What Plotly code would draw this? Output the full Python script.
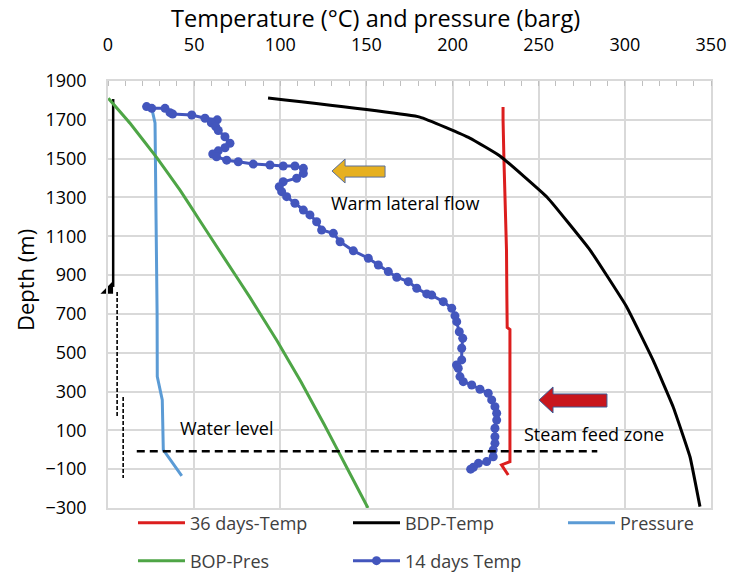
import plotly.graph_objects as go

# ---------------- data ----------------
# 14 days temperature survey (degC vs depth m)
t14_temp = [22.4, 25.4, 33.1, 36.0, 37.5, 48.6, 56.3, 63.4, 60.0, 62.5, 64.0, 67.9, 70.8,
            67.9, 64.0, 60.8, 63.0, 68.9, 75.6, 84.3, 94.0, 101.7, 108.5, 113.4, 113.4,
            109.5, 101.7, 99.4, 100.8, 103.7, 108.5, 113.4, 117.2, 121.1, 124.0, 130.8,
            134.7, 142.4, 151.1, 156.9, 162.7, 167.6, 174.3, 179.2, 185.0, 187.9, 194.6,
            199.5, 201.4, 202.4, 203.9, 205.9, 205.3, 205.3, 202.3, 203.3, 204.3, 206.2,
            211.1, 215.9, 220.7, 222.7, 224.6, 225.6, 225.6, 224.6, 224.6, 224.6, 223.6,
            223.6, 219.8, 215.0, 212.1, 210.5]
t14_depth = [1768, 1759, 1759, 1737, 1730, 1725, 1708, 1700, 1684, 1665, 1645, 1613, 1579,
             1556, 1540, 1524, 1510, 1492, 1484, 1472, 1467, 1462, 1462, 1450, 1424,
             1399, 1381, 1355, 1330, 1304, 1270, 1235, 1210, 1175, 1132, 1115,
             1072, 1025, 987, 952, 918, 889, 866, 832, 803, 797, 763,
             729, 690, 660, 608, 574, 523, 463, 437, 420, 377, 351,
             334, 312, 291, 257, 222, 188, 153, 111, 67, 33, -1,
             -36, -61, -70, -90, -100]

# 36 days temperature survey
t36_temp = [229.3, 229.3, 229.8, 230.5, 231.0, 231.3, 231.5, 231.7, 233.3, 233.3, 228.4, 230.4, 232.3]
t36_depth = [1766, 1700, 1500, 1300, 1100, 1029, 800, 630, 620, -61, -78, -104, -130]

# BDP temperature
bdp_temp = [92.9, 181.0, 210.0, 227.5, 255.0, 279.8, 301.0, 316.3, 328.0, 337.8, 343.6]
bdp_depth = [1812, 1714, 1606, 1514, 1300, 1029, 737, 463, 222, -36, -293]

# measured pressure (barg)
pres_val = [25.4, 27.3, 27.9, 28.4, 28.5, 28.6, 31.5, 32.1, 42.8]
pres_depth = [1759, 1684, 1184, 900, 700, 377, 257, 0, -135]

# BOP pressure
bop_val = [0.2, 12.8, 28.3, 41.8, 52.4, 67.3, 82.4, 98.2, 112.0, 125.5, 138.5, 150.9]
bop_depth = [1811, 1682, 1505, 1338, 1193, 990, 785, 560, 350, 130, -90, -300]

# well completion (casing / liners) and water level
casing_x = [3.0, 3.0]
casing_y = [1807, 839]
shoe_x = [0.5]
shoe_y = [826]
liner1_x = [5.3, 5.3]
liner1_y = [813, 164]
liner2_x = [8.8, 8.8]
liner2_y = [272, -145]
water_x = [16.7, 284.0]
water_y = [-8, -8]

x_ticks = [0, 50, 100, 150, 200, 250, 300, 350]
y_ticks = [-300, -100, 100, 300, 500, 700, 900, 1100, 1300, 1500, 1700, 1900]

RED = "#DC1E1E"
LBLUE = "#5B9BD5"
GREEN = "#4EA546"
DBLUE = "#4356BD"
FONT = "Open Sans"

fig = go.Figure()

# completion drawing
fig.add_trace(go.Scatter(x=casing_x, y=casing_y, mode="lines", showlegend=False,
                         line=dict(color="black", width=2.5), hoverinfo="skip"))
fig.add_trace(go.Scatter(x=liner1_x, y=liner1_y, mode="lines", showlegend=False,
                         line=dict(color="black", width=1.6, dash="4px,2px"), hoverinfo="skip"))
fig.add_trace(go.Scatter(x=liner2_x, y=liner2_y, mode="lines", showlegend=False,
                         line=dict(color="black", width=1.6, dash="4px,2px"), hoverinfo="skip"))
fig.add_trace(go.Scatter(x=shoe_x, y=shoe_y, mode="markers", showlegend=False, cliponaxis=False,
                         marker=dict(symbol="triangle-se", size=14, color="black"), hoverinfo="skip"))

fig.add_trace(go.Scatter(x=t36_temp, y=t36_depth, mode="lines", name="36 days-Temp",
                         line=dict(color=RED, width=3), legend="legend"))
fig.add_trace(go.Scatter(x=bdp_temp, y=bdp_depth, mode="lines", name="BDP-Temp",
                         line=dict(color="black", width=3, shape="spline", smoothing=0.3),
                         legend="legend"))
fig.add_trace(go.Scatter(x=pres_val, y=pres_depth, mode="lines", name="Pressure",
                         line=dict(color=LBLUE, width=3), legend="legend"))
fig.add_trace(go.Scatter(x=bop_val, y=bop_depth, mode="lines", name="BOP-Pres",
                         line=dict(color=GREEN, width=3, shape="spline", smoothing=0.3),
                         legend="legend2"))
fig.add_trace(go.Scatter(x=t14_temp, y=t14_depth, mode="lines+markers", name="14 days Temp",
                         line=dict(color=DBLUE, width=3),
                         marker=dict(color=DBLUE, size=9), legend="legend2"))

fig.add_trace(go.Scatter(x=water_x, y=water_y, mode="lines", showlegend=False,
                         line=dict(color="black", width=2.5, dash="8px,5px"), hoverinfo="skip"))


def arrow_path(tip_x, tip_y, head_x, tail_x, head_top, head_bot, shaft_top, shaft_bot):
    pts = [(tip_x, tip_y), (head_x, head_top), (head_x, shaft_top), (tail_x, shaft_top),
           (tail_x, shaft_bot), (head_x, shaft_bot), (head_x, head_bot)]
    return "M " + " L ".join(f"{a},{b}" for a, b in pts) + " Z"


fig.add_shape(type="path", xref="x", yref="y",
              path=arrow_path(130.0, 1436, 137.6, 160.8, 1498, 1374.5, 1462, 1405),
              fillcolor="#E6B020", line=dict(color="#5B6F99", width=1))
fig.add_shape(type="path", xref="x", yref="y",
              path=arrow_path(250.2, 256.5, 258.3, 289.6, 323.5, 189.5, 287.4, 220.4),
              fillcolor="#C8161D", line=dict(color="#3A5A95", width=1))

ann_font = dict(family=FONT, size=18, color="black")
fig.add_annotation(x=172.4, y=1271, xref="x", yref="y", text="Warm lateral flow",
                   showarrow=False, font=ann_font)
fig.add_annotation(x=281.9, y=81, xref="x", yref="y", text="Steam feed zone",
                   showarrow=False, font=ann_font)
fig.add_annotation(x=69.0, y=112, xref="x", yref="y", text="Water level",
                   showarrow=False, font=ann_font)

# axis titles as annotations (placed as in the reference)
fig.add_annotation(x=0.443, y=1.1475, xref="paper", yref="paper", xanchor="center",
                   yanchor="middle", text="Temperature (°C) and pressure (barg)", showarrow=False,
                   font=dict(family=FONT, size=23.5, color="black"))
fig.add_annotation(x=-0.1376, y=0.534, xref="paper", yref="paper", xanchor="center",
                   yanchor="middle", text="Depth (m)", textangle=-90, showarrow=False,
                   font=dict(family=FONT, size=22, color="black"))

GRID = "#D9D9D9"
fig.update_xaxes(range=[0, 350], side="top", tickvals=x_ticks, showgrid=True, gridcolor=GRID,
                 gridwidth=1.5, zeroline=False, showline=True, linecolor=GRID, linewidth=1.5,
                 mirror=True, ticks="", ticklabelstandoff=21,
                 tickfont=dict(family=FONT, size=18, color="black"),
                 minor=dict(ticks="inside", dtick=10, tick0=0, ticklen=5, tickcolor="#BFBFBF",
                            showgrid=False))
fig.update_yaxes(range=[-300, 1900], tickvals=y_ticks, showgrid=True, gridcolor=GRID,
                 gridwidth=1.5, zeroline=False, showline=True, linecolor=GRID, linewidth=1.5,
                 mirror=True, ticks="", ticklabelstandoff=16,
                 tickfont=dict(family=FONT, size=18, color="black"))

leg_common = dict(orientation="h", xanchor="left", yanchor="middle", x=-0.0083,
                  borderwidth=30, bordercolor="rgba(0,0,0,0)", bgcolor="rgba(0,0,0,0)",
                  itemwidth=47, entrywidth=153, entrywidthmode="pixels",
                  font=dict(family=FONT, size=18, color="#404040"))

fig.update_layout(
    width=729, height=572,
    margin=dict(l=108, r=18, t=81, b=64, autoexpand=False),
    paper_bgcolor="white", plot_bgcolor="white",
    font=dict(family=FONT, size=18, color="black"),
    legend=dict(**leg_common, y=-0.035),
    legend2=dict(**leg_common, y=-0.124),
)

fig.write_html("out.html")
